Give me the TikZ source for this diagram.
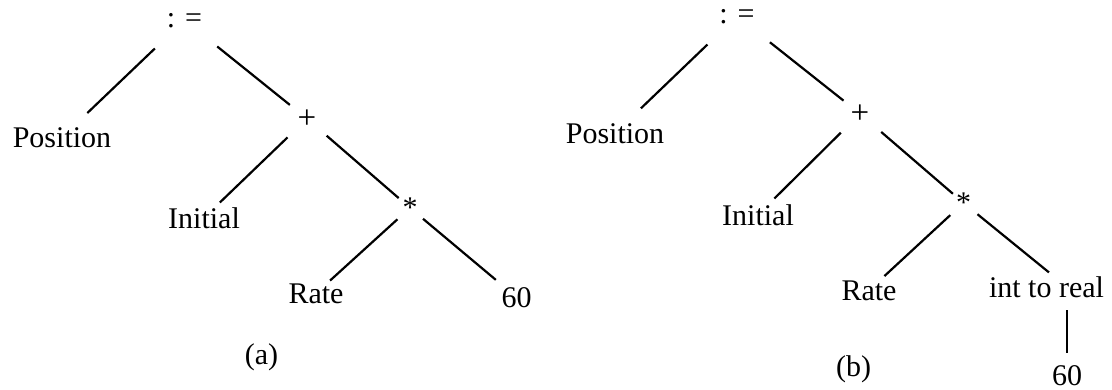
\documentclass[tikz,border=0pt]{standalone}
\usepackage{fontspec}
\setmainfont{Liberation Serif}
\begin{document}
\begin{tikzpicture}[x=1pt,y=-1pt,
  lbl/.style={inner sep=0pt, outer sep=0pt, anchor=base,
              font=\fontsize{30}{36}\selectfont},
  oplbl/.style={lbl, font=\fontsize{33}{38}\selectfont},
  edge/.style={line width=2.2pt, black}]
\useasboundingbox (0,0) rectangle (1112,389);

% ---- tree (a) ----
\node[lbl]   (a-root) at (184.5,27)  {: =};
\node[lbl]   (a-pos)  at (62,147)    {Position};
\node[oplbl] (a-plus) at (307,128)   {+};
\node[lbl]   (a-init) at (204,228)   {Initial};
\node[lbl]   (a-mul)  at (410,217.7) {*};
\node[lbl]   (a-rate) at (316,303)   {Rate};
\node[lbl]   (a-num)  at (516.5,307) {60};
\node[lbl]   (a-cap)  at (261.5,364.7) {(a)};

\draw[edge, shorten <=41pt, shorten >=35pt] (a-root.center) -- (a-pos.center);
\draw[edge, shorten <=42pt, shorten >=22pt] (a-root.center) -- (a-plus.center);
\draw[edge, shorten <=27pt, shorten >=22pt] (a-plus.center) -- (a-init.center);
\draw[edge, shorten <=26pt, shorten >=15pt] (a-plus.center) -- (a-mul.center);
\draw[edge, shorten <=17pt, shorten >=19pt] (a-mul.center)  -- (a-rate.center);
\draw[edge, shorten <=17pt, shorten >=27pt] (a-mul.center)  -- (a-num.center);

% ---- tree (b) ----
\node[lbl]   (b-root) at (737,23)    {: =};
\node[lbl]   (b-pos)  at (615,143)   {Position};
\node[oplbl] (b-plus) at (860,123)   {+};
\node[lbl]   (b-init) at (758,225)   {Initial};
\node[lbl]   (b-mul)  at (963.5,212.7) {*};
\node[lbl]   (b-rate) at (869,300)   {Rate};
\node[lbl]   (b-conv) at (1046.5,297) {int to real};
\node[lbl]   (b-num)  at (1067,385)  {60};
\node[lbl]   (b-cap)  at (853.5,376.7) {(b)};

\draw[edge, shorten <=41pt, shorten >=36pt] (b-root.center) -- (b-pos.center);
\draw[edge, shorten <=42pt, shorten >=21pt] (b-root.center) -- (b-plus.center);
\draw[edge, shorten <=27pt, shorten >=23pt] (b-plus.center) -- (b-init.center);
\draw[edge, shorten <=28pt, shorten >=14pt] (b-plus.center) -- (b-mul.center);
\draw[edge, shorten <=18pt, shorten >=21pt] (b-mul.center)  -- (b-rate.center);
\draw[edge, shorten <=18pt, shorten >=6pt]  (b-mul.center)  -- (b-conv.56);
\draw[edge, shorten <=13pt, shorten >=12pt] (b-num |- b-conv.south) -- (b-num.north);
\end{tikzpicture}
\end{document}
